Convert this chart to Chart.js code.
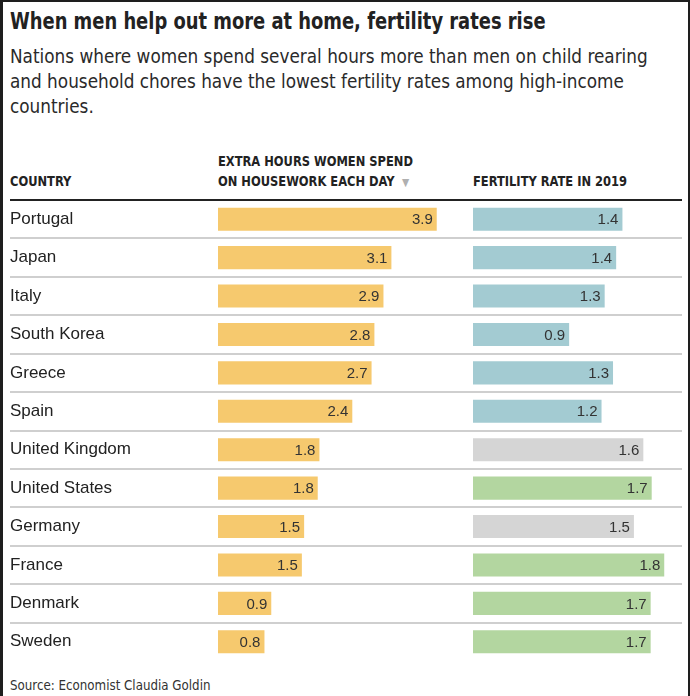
<!DOCTYPE html>
<html><head><meta charset="utf-8">
<script src="https://cdn.jsdelivr.net/npm/chart.js@4.4.1/dist/chart.umd.min.js"></script>
<style>
html,body{margin:0;padding:0;background:#fff;}
body{position:relative;width:690px;height:696px;overflow:hidden;}
#frame{position:absolute;left:0;top:0;width:690px;height:696px;box-sizing:border-box;border-left:3px solid #1e1e1e;border-top:2px solid #1e1e1e;border-right:2px solid #1e1e1e;}
.t{position:absolute;white-space:nowrap;color:#222;transform-origin:0 50%;}
#title{left:10px;top:6px;line-height:30px;font-weight:bold;font-size:23px;font-family:"DejaVu Sans Condensed","DejaVu Sans",sans-serif;color:#222;transform:scaleX(0.865);}
#sub{left:10px;top:45px;line-height:24.8px;font-size:19.5px;font-family:"DejaVu Sans Condensed","DejaVu Sans",sans-serif;color:#2a2a2a;transform:scaleX(0.962);transform-origin:0 0;}
.h{font-weight:bold;font-size:13.5px;line-height:20px;font-family:"DejaVu Sans Condensed","DejaVu Sans",sans-serif;color:#222;transform:scaleX(0.945);}
#src{left:10px;top:675px;line-height:20px;font-size:14.5px;font-family:"DejaVu Sans Condensed","DejaVu Sans",sans-serif;color:#333;transform:scaleX(0.91);}
canvas{position:absolute;}
</style>
</head><body>
<div id="frame"></div>
<div class="t" id="title">When men help out more at home, fertility rates rise</div>
<div class="t" id="sub">Nations where women spend several hours more than men on child rearing<br>and household chores have the lowest fertility rates among high-income<br>countries.</div>
<div class="t h" style="left:10px;top:171px;">COUNTRY</div>
<div class="t h" style="left:218px;top:151px;">EXTRA HOURS WOMEN SPEND</div>
<div class="t h" style="left:218px;top:171px;">ON HOUSEWORK EACH DAY<span style="color:#b0b0b0;font-size:11px;margin-left:8px;">&#9660;</span></div>
<div class="t h" style="left:473px;top:171px;">FERTILITY RATE IN 2019</div>
<div class="t" id="src">Source: Economist Claudia Goldin</div>
<canvas id="c1" width="473" height="465" style="left:0;top:198px;"></canvas>
<canvas id="c2" width="217" height="465" style="left:473px;top:198px;"></canvas>
<script>
const countries = ["Portugal","Japan","Italy","South Korea","Greece","Spain","United Kingdom","United States","Germany","France","Denmark","Sweden"];
const extraHours = [3.86, 3.06, 2.92, 2.76, 2.71, 2.37, 1.79, 1.76, 1.52, 1.48, 0.94, 0.82];
const fertility = [1.43, 1.37, 1.26, 0.92, 1.34, 1.23, 1.63, 1.71, 1.54, 1.83, 1.70, 1.70];
const fertilityGroup = ["low","low","low","low","low","low","mid","high","mid","high","high","high"];

const YELLOW = "#f6c96e";
const groupColors = {low:"#a3cbd2", mid:"#d5d5d5", high:"#b3d6a0"};
const LINE = "#cfcfcf";
const fmt = v => (Math.round(v*10)/10).toFixed(1);

const valueLabels = {
  id:"valueLabels",
  afterDatasetsDraw(chart){
    const ctx = chart.ctx;
    const meta = chart.getDatasetMeta(0);
    const data = chart.data.datasets[0].data;
    ctx.save();
    ctx.font = '15px "Liberation Sans", Arial, sans-serif';
    ctx.fillStyle = "#333";
    ctx.textAlign = "right";
    ctx.textBaseline = "middle";
    meta.data.forEach((bar,i)=>{ ctx.fillText(fmt(data[i]), bar.x-4, bar.y+1); });
    ctx.restore();
  }
};

function gridColor(ctx){
  if (ctx.index === 0) return "#222";
  if (ctx.type !== "tick" || ctx.index === undefined || ctx.index >= countries.length) return "rgba(0,0,0,0)";
  return LINE;
}
function fitY(w){
  return function(scale){ scale.width = w; scale.paddingTop = 0; scale.paddingBottom = 0; };
}

new Chart(document.getElementById("c1"), {
  type:"bar",
  data:{labels:countries, datasets:[{data:extraHours, backgroundColor:YELLOW, borderWidth:0, barPercentage:0.6, categoryPercentage:1}]},
  options:{
    indexAxis:"y", responsive:false, animation:false,
    layout:{padding:{left:10,right:0,top:2,bottom:2}},
    plugins:{legend:{display:false}, tooltip:{enabled:false}},
    scales:{
      x:{display:false, min:0, max:4.5},
      y:{
        offset:true,
        border:{display:false},
        grid:{offset:true, color:gridColor, lineWidth:2, drawTicks:true, tickLength:208},
        ticks:{crossAlign:"far", padding:0, color:"#222", font:{size:17, family:'"Liberation Sans", Arial, sans-serif'}},
        afterFit: fitY(208)
      }
    }
  },
  plugins:[valueLabels]
});

new Chart(document.getElementById("c2"), {
  type:"bar",
  data:{labels:countries, datasets:[{data:fertility, backgroundColor:fertilityGroup.map(g=>groupColors[g]), borderWidth:0, barPercentage:0.6, categoryPercentage:1}]},
  options:{
    indexAxis:"y", responsive:false, animation:false,
    layout:{padding:{left:0,right:8,top:2,bottom:2}},
    plugins:{legend:{display:false}, tooltip:{enabled:false}},
    scales:{
      x:{display:false, min:0, max:2.0},
      y:{
        offset:true,
        border:{display:false},
        grid:{offset:true, color:gridColor, lineWidth:2, drawTicks:false},
        ticks:{display:false},
        afterFit: fitY(0)
      }
    }
  },
  plugins:[valueLabels]
});
</script>
</body></html>
